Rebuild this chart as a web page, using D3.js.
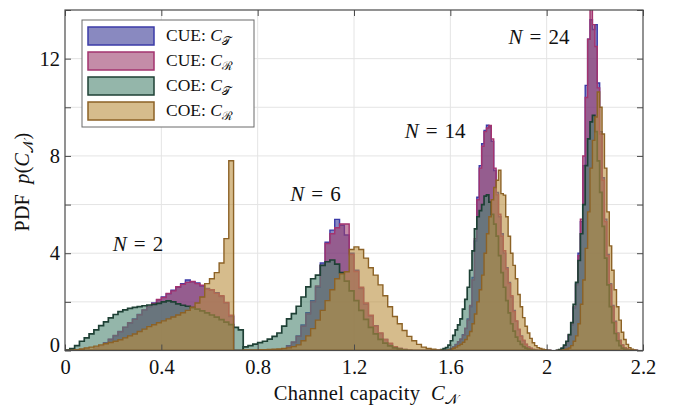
<!DOCTYPE html>
<html>
<head>
<meta charset="utf-8">
<script src="https://cdnjs.cloudflare.com/ajax/libs/d3/7.8.5/d3.min.js"></script>
<style>
  body { margin: 0; background: #fff; }
  svg { display: block; }
  text { font-family: "Liberation Serif", "DejaVu Serif", serif; fill: #111; }
</style>
</head>
<body>
<div id="chart"></div>
<script>
// DATA (histogram heights)
// each group: first bin edge + bin width, then one height per bin
var groupNames = ["2", "6", "14", "24"];
var binStarts = [0, 0.74, 1.56, 2.04];
var binWidths = [0.02, 0.02, 0.01, 0.01];

// N = 2
var cueT_N2 = [0,0,0,0,0.01,0.04,0.1,0.2,0.32,0.45,0.6,0.78,0.95,1.12,1.3,1.48,1.66,1.8,1.95,2.08,2.2,2.33,2.48,2.6,2.75,2.9,2.82,2.78,2.65,2.55,2.48,2.38,2.22,1.95,1.4,0,0];
var cueR_N2 = [0,0,0,0,0.01,0.03,0.09,0.19,0.31,0.46,0.62,0.77,0.96,1.14,1.28,1.47,1.67,1.82,1.93,2.1,2.18,2.35,2.45,2.62,2.72,2.8,2.84,2.75,2.68,2.52,2.5,2.35,2.25,1.98,1.45,0,0];
var coeT_N2 = [0.02,0.08,0.2,0.38,0.52,0.68,0.85,1.02,1.18,1.34,1.48,1.6,1.67,1.73,1.77,1.8,1.84,1.87,1.9,1.94,2.0,2.04,2.0,1.92,1.86,1.82,1.76,1.7,1.63,1.55,1.46,1.37,1.27,1.17,1.06,0.95,0.85];
var coeR_N2 = [0,0.01,0.03,0.06,0.1,0.14,0.18,0.23,0.28,0.33,0.38,0.44,0.52,0.6,0.68,0.78,0.88,0.98,1.06,1.14,1.22,1.3,1.38,1.46,1.55,1.65,1.78,1.95,2.2,2.75,2.95,3.2,3.6,4.6,7.8,0,0];

// N = 6
var cueT_N6 = [0,0,0,0,0,0,0,0.02,0.07,0.2,0.33,0.6,1.05,1.55,2.05,2.6,3.6,4.45,4.95,5.39,5.15,4.75,4.0,3.3,2.55,1.9,1.42,1.02,0.7,0.45,0.28,0.15,0.08,0.04,0.01,0,0,0,0,0,0];
var cueR_N6 = [0,0,0,0,0,0,0,0.02,0.06,0.18,0.35,0.58,1.0,1.5,2.0,2.65,3.5,4.4,4.8,5.05,5.2,5.2,3.95,3.25,2.6,1.95,1.45,1.0,0.72,0.45,0.3,0.16,0.08,0.04,0.01,0,0,0,0,0,0];
var coeT_N6 = [0.15,0.2,0.26,0.32,0.38,0.47,0.58,0.72,1.0,1.3,1.52,1.82,2.2,2.62,2.95,3.1,3.5,3.65,3.72,3.55,3.2,2.85,2.45,2.05,1.65,1.28,0.95,0.68,0.46,0.3,0.19,0.11,0.06,0.03,0.01,0,0,0,0,0,0];
var coeR_N6 = [0.02,0.02,0.02,0.03,0.03,0.04,0.05,0.06,0.08,0.11,0.16,0.23,0.4,0.6,0.9,1.25,1.65,2.05,2.5,2.95,3.15,3.24,4.15,4.26,4.15,3.8,3.4,3.1,2.7,2.25,1.8,1.4,1.1,0.82,0.58,0.4,0.25,0.14,0.08,0.05,0.02];

// N = 14
var cueT_N14 = [0,0,0.01,0.03,0.08,0.15,0.25,0.35,0.45,0.65,0.9,1.3,1.8,3.0,4.5,6.3,7.6,8.5,9.05,9.26,9.2,8.6,7.4,6.5,5.5,4.8,4.0,3.4,2.8,2.2,1.65,1.2,0.85,0.6,0.4,0.25,0.15,0.08,0.04,0.02,0,0,0,0,0,0];
var cueR_N14 = [0,0,0.01,0.03,0.07,0.14,0.24,0.36,0.47,0.63,0.92,1.25,1.85,2.9,4.6,6.2,7.5,8.4,9.0,9.15,9.25,8.7,7.5,6.4,5.6,4.7,4.1,3.35,2.75,2.25,1.6,1.22,0.88,0.58,0.42,0.26,0.14,0.09,0.04,0.02,0,0,0,0,0,0];
var coeT_N14 = [0.04,0.08,0.12,0.22,0.4,0.62,0.85,1.05,1.3,1.7,2.1,2.6,3.3,4.1,5.0,5.5,5.75,6.0,6.35,6.4,6.1,5.6,5.2,4.7,3.9,3.2,2.6,2.05,1.55,1.1,0.8,0.55,0.38,0.25,0.16,0.1,0.06,0.03,0.02,0,0,0,0,0,0,0];
var coeR_N14 = [0,0,0,0.02,0.05,0.09,0.14,0.2,0.26,0.34,0.45,0.6,0.78,1.1,1.5,2.0,2.5,3.1,4.0,4.8,5.5,6.2,6.7,7.0,7.41,6.45,6.39,5.5,4.7,4.0,3.5,2.95,2.3,1.8,1.35,1.0,0.72,0.5,0.32,0.2,0.12,0.08,0.05,0.03,0.01,0];

// N = 24
var cueT_N24 = [0,0.02,0.07,0.16,0.33,0.62,1.05,1.75,2.75,4.0,5.3,7.6,10.9,12.8,13.6,13.2,13.4,11.0,9.0,7.1,5.4,3.95,2.75,1.85,1.2,0.72,0.42,0.23,0.12,0.06,0.03,0.01,0,0];
var cueR_N24 = [0,0.02,0.06,0.15,0.35,0.65,1.1,1.8,2.7,3.9,5.4,8.0,10.4,12.8,14.2,13.4,12.5,10.8,8.9,7.0,5.3,3.9,2.7,1.8,1.15,0.7,0.4,0.22,0.12,0.06,0.03,0.01,0,0];
var coeT_N24 = [0.01,0.04,0.1,0.22,0.38,0.65,1.15,1.9,2.8,3.7,4.8,6.0,7.6,8.7,9.4,9.67,9.0,7.8,6.5,5.1,3.8,2.7,1.8,1.15,0.7,0.4,0.2,0.1,0.05,0.02,0.01,0,0,0];
var coeR_N24 = [0,0,0.01,0.03,0.06,0.1,0.2,0.38,0.6,1.1,1.9,2.9,4.2,5.7,7.5,8.64,9.6,10.63,10.0,8.9,7.5,5.7,4.3,3.3,2.5,1.8,1.25,0.75,0.45,0.25,0.12,0.05,0.02,0];

// ticks
var xTicks = [0, 0.4, 0.8, 1.2, 1.6, 2.0, 2.4];
var xTickLabels = ["0", "0.4", "0.8", "1.2", "1.6", "2", "2.2"];
var yTicks = [0, 2, 4, 6, 8, 10, 12, 14];
var yTickLabels = ["0", "", "4", "", "8", "", "12", ""];

var seriesNames = ["CUE", "CUE", "COE", "COE"];
var seriesSubs = ["\u{1D4AF}", "\u211B", "\u{1D4AF}", "\u211B"];
var seriesData = [
    [cueT_N2, cueT_N6, cueT_N14, cueT_N24],
    [cueR_N2, cueR_N6, cueR_N14, cueR_N24],
    [coeT_N2, coeT_N6, coeT_N14, coeT_N24],
    [coeR_N2, coeR_N6, coeR_N14, coeR_N24]
];


// STYLES
var fills = ["#3a3a96", "#9d3f6e", "#4d8571", "#bb8f3f"];
var strokes = ["#3b3ba8", "#a3336f", "#1e4035", "#8c6226"];
var fillOpacity = 0.6;


// SVG
var svgWidth = 673;
var svgHeight = 407;
var plot = { left: 65, right: 643, top: 10, bottom: 350.5 };

var svg = d3.select("#chart")
    .append("svg")
    .attr("width", svgWidth)
    .attr("height", svgHeight);

var x = d3.scaleLinear().domain([0, 2.4]).range([plot.left, plot.right]);
var y = d3.scaleLinear().domain([0, 14]).range([plot.bottom, plot.top]);

// grid
svg.append("g")
    .selectAll("line")
    .data(xTicks.slice(1, -1))
    .enter().append("line")
    .attr("x1", d => x(d)).attr("x2", d => x(d))
    .attr("y1", plot.top).attr("y2", plot.bottom)
    .attr("stroke", "#e4e4e4").attr("stroke-width", 1);

svg.append("g")
    .selectAll("line")
    .data(yTicks.slice(1, -1))
    .enter().append("line")
    .attr("x1", plot.left).attr("x2", plot.right)
    .attr("y1", d => y(d)).attr("y2", d => y(d))
    .attr("stroke", "#e4e4e4").attr("stroke-width", 1);

// clip
svg.append("clipPath").attr("id", "plotclip")
    .append("rect")
    .attr("x", plot.left).attr("y", plot.top)
    .attr("width", plot.right - plot.left)
    .attr("height", plot.bottom - plot.top);

// Histograms
var area = d3.area()
    .curve(d3.curveStepAfter)
    .x(d => x(d[0]))
    .y0(y(0))
    .y1(d => y(d[1]));

function histPoints(start, width, vals) {
    var pts = vals.map(function(v, i) { return [start + i * width, v]; });
    pts.push([start + vals.length * width, vals[vals.length - 1]]);
    return pts;
}

var histG = svg.append("g").attr("clip-path", "url(#plotclip)");
for (var s = 0; s < seriesData.length; s++) {
    for (var g = 0; g < groupNames.length; g++) {
        histG.append("path")
            .datum(histPoints(binStarts[g], binWidths[g], seriesData[s][g]))
            .attr("d", area)
            .attr("fill", fills[s])
            .attr("fill-opacity", fillOpacity)
            .attr("stroke", strokes[s])
            .attr("stroke-width", s == 2 ? 1.7 : 1.4)
            .attr("stroke-linejoin", "miter");
    }
}

// Axes (ticks inward, on all four sides)
var frameColor = "#4a4a4a";

var bottomAxis = svg.append("g")
    .attr("transform", "translate(0," + plot.bottom + ")")
    .call(d3.axisBottom(x).tickValues(xTicks)
        .tickFormat(function(d, i) { return xTickLabels[i]; })
        .tickSizeInner(-6).tickSizeOuter(0).tickPadding(9));
svg.append("g")
    .attr("transform", "translate(0," + plot.top + ")")
    .call(d3.axisTop(x).tickValues(xTicks).tickFormat("")
        .tickSizeInner(-6).tickSizeOuter(0));
var leftAxis = svg.append("g")
    .attr("transform", "translate(" + plot.left + ",0)")
    .call(d3.axisLeft(y).tickValues(yTicks)
        .tickFormat(function(d, i) { return yTickLabels[i]; })
        .tickSizeInner(-6).tickSizeOuter(0).tickPadding(5));
svg.append("g")
    .attr("transform", "translate(" + plot.right + ",0)")
    .call(d3.axisRight(y).tickValues(yTicks).tickFormat("")
        .tickSizeInner(-6).tickSizeOuter(0));

svg.selectAll(".domain").remove();
svg.selectAll(".tick line").attr("stroke", frameColor).attr("stroke-width", 1);
svg.selectAll(".tick text")
    .attr("font-family", "'Liberation Serif', serif")
    .attr("font-size", 20.5)
    .attr("fill", "#111");
leftAxis.selectAll(".tick text")
    .filter(d => d == 0)
    .attr("dy", "0.05em");

svg.append("rect")
    .attr("x", plot.left).attr("y", plot.top)
    .attr("width", plot.right - plot.left)
    .attr("height", plot.bottom - plot.top)
    .attr("fill", "none")
    .attr("stroke", frameColor)
    .attr("stroke-width", 1.2);

// Axis titles
function mathText(sel, parts, size) {
    parts.forEach(function(p) {
        var t = sel.append("tspan").text(p.t);
        if (p.it) t.attr("font-style", "italic");
        if (p.sub) {
            t.attr("font-size", size * 0.7).attr("dy", size * 0.2);
        } else if (p.back) {
            t.attr("dy", -size * 0.2);
        }
    });
}

var xTitle = svg.append("text")
    .attr("x", 366).attr("y", 400)
    .attr("text-anchor", "middle")
    .attr("font-size", 20.5)
    .attr("letter-spacing", 0.3);
mathText(xTitle, [{t: "Channel capacity\u2002"}, {t: "C", it: true}, {t: "\u{1D4A9}", sub: true}], 20.5);

var yTitle = svg.append("text")
    .attr("transform", "translate(29,182) rotate(-90)")
    .attr("text-anchor", "middle")
    .attr("font-size", 20)
    .attr("letter-spacing", 0.3);
mathText(yTitle, [{t: "PDF\u2002"}, {t: "p", it: true}, {t: "("}, {t: "C", it: true},
    {t: "\u{1D4A9}", sub: true}, {t: ")", back: true}], 20);

// N labels
var annotPos = [[0.303, 4.1], [1.04, 6.15], [1.537, 8.75], [1.968, 12.6]];
groupNames.forEach(function(n, i) {
    var t = svg.append("text")
        .attr("x", x(annotPos[i][0])).attr("y", y(annotPos[i][1]))
        .attr("text-anchor", "middle")
        .attr("font-size", 21);
    mathText(t, [{t: "N", it: true}, {t: "\u2004=\u2004" + n}], 21);
});

// Legend
var legend = svg.append("g");
legend.append("rect")
    .attr("x", 82).attr("y", 20)
    .attr("width", 172).attr("height", 107)
    .attr("fill", "#fff")
    .attr("stroke", "#6a6a6a")
    .attr("stroke-width", 1);

seriesNames.forEach(function(name, i) {
    var yy = 27 + i * 25;
    legend.append("rect")
        .attr("x", 88).attr("y", yy)
        .attr("width", 66).attr("height", 18)
        .attr("fill", fills[i])
        .attr("fill-opacity", fillOpacity)
        .attr("stroke", strokes[i])
        .attr("stroke-width", 1.5);
    var t = legend.append("text")
        .attr("x", 166).attr("y", yy + 14)
        .attr("font-size", 17.5);
    mathText(t, [{t: name + ": "}, {t: "C", it: true}, {t: seriesSubs[i], sub: true}], 17.5);
});
</script>
</body>
</html>
